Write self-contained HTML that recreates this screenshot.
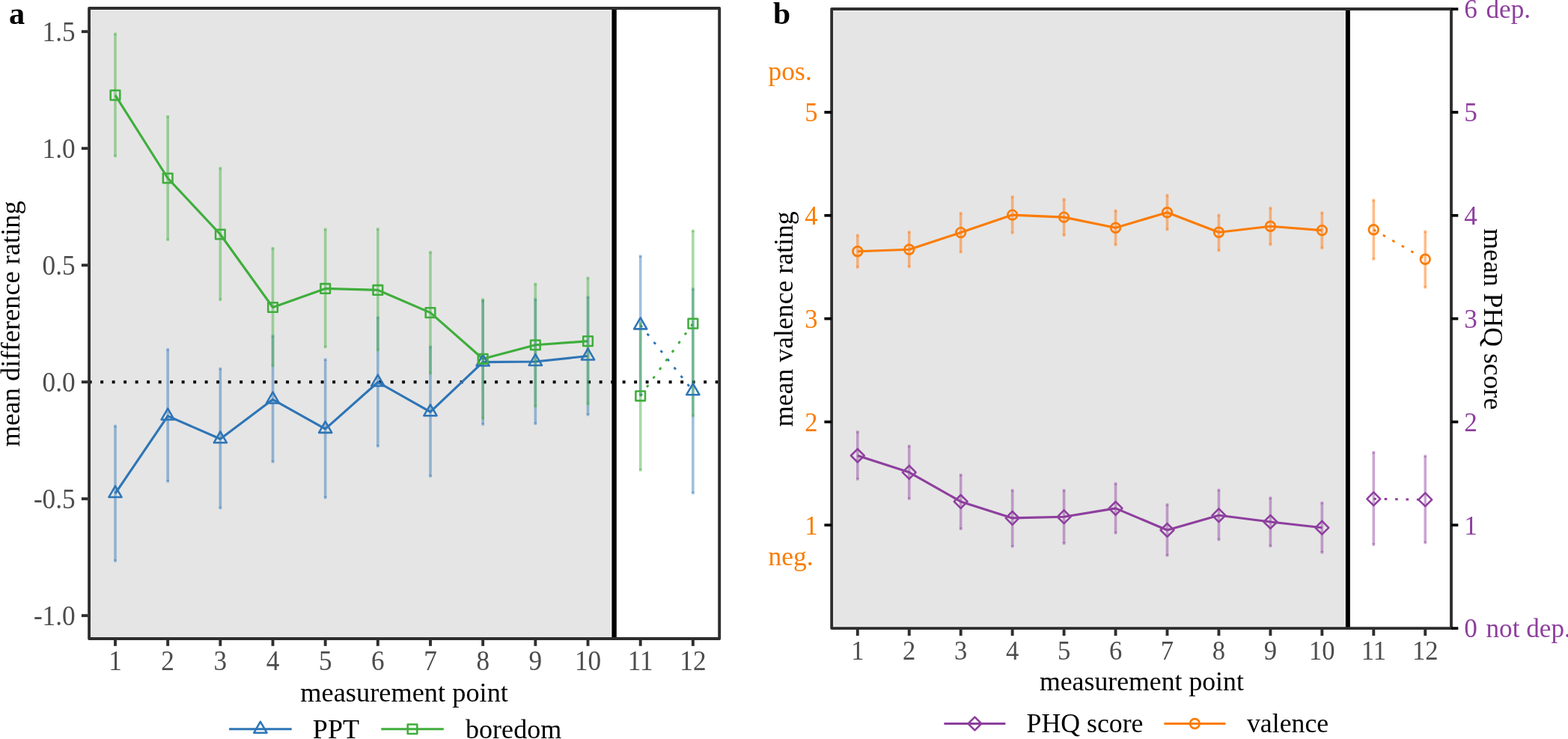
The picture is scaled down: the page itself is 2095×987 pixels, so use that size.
<!DOCTYPE html>
<html lang="en">
<head>
<meta charset="utf-8">
<title>Figure: mean difference rating and mean valence rating by measurement point</title>
<style>
html,body{margin:0;padding:0;background:#fff;}
body{width:2095px;height:987px;overflow:hidden;}
svg{display:block;}
text{font-family:"Liberation Serif", serif;}
</style>
</head>
<body>
<svg width="2095" height="987" viewBox="0 0 2095 987" font-family='"Liberation Serif", serif'>
<rect width="2095" height="987" fill="#fff"/>
<g id="panel-a">
<rect x="119.1" y="11" width="701.5" height="842" fill="#F3F3F3"/>
<rect x="122" y="14" width="693.8" height="836.4" fill="#E5E5E5"/>
<line x1="118.7" y1="510.2" x2="961.2" y2="510.2" stroke="#000" stroke-width="3.9" stroke-dasharray="3.9 11.6"/>
<line x1="820.6" y1="11" x2="820.6" y2="853" stroke="#000" stroke-width="6.4"/>
<polyline points="154,659.1 224.17,555.6 294.34,586.3 364.51,533.6 434.68,572.9 504.85,510.5 575.02,550.2 645.19,483.6 715.36,483 785.53,475.5" fill="none" stroke="#2E75B6" stroke-width="3.15" stroke-linejoin="round"/>
<line x1="855.7" y1="434.4" x2="925.87" y2="522.2" stroke="#2E75B6" stroke-width="2.9" stroke-dasharray="3.6 10.8"/>
<polyline points="154,127.1 224.17,238 294.34,313 364.51,410.5 434.68,385.4 504.85,387.4 575.02,417.6 645.19,479.2 715.36,460.7 785.53,455.6" fill="none" stroke="#3FAE3C" stroke-width="3.15" stroke-linejoin="round"/>
<line x1="855.7" y1="528.8" x2="925.87" y2="432.1" stroke="#3FAE3C" stroke-width="2.9" stroke-dasharray="3.6 10.8"/>
<rect x="152.2" y="567.4" width="3.6" height="183.4" fill="#2E75B6" fill-opacity="0.46"/>
<rect x="152.2" y="569.3" width="3.6" height="1.6" fill="#2E75B6" fill-opacity="0.46"/>
<rect x="152.2" y="747.3" width="3.6" height="1.6" fill="#2E75B6" fill-opacity="0.46"/>
<rect x="222.37" y="465.1" width="3.6" height="179.4" fill="#2E75B6" fill-opacity="0.46"/>
<rect x="222.37" y="467" width="3.6" height="1.6" fill="#2E75B6" fill-opacity="0.46"/>
<rect x="222.37" y="641" width="3.6" height="1.6" fill="#2E75B6" fill-opacity="0.46"/>
<rect x="292.54" y="490.8" width="3.6" height="189.4" fill="#2E75B6" fill-opacity="0.46"/>
<rect x="292.54" y="492.7" width="3.6" height="1.6" fill="#2E75B6" fill-opacity="0.46"/>
<rect x="292.54" y="676.7" width="3.6" height="1.6" fill="#2E75B6" fill-opacity="0.46"/>
<rect x="362.71" y="447.1" width="3.6" height="171.3" fill="#2E75B6" fill-opacity="0.46"/>
<rect x="362.71" y="449" width="3.6" height="1.6" fill="#2E75B6" fill-opacity="0.46"/>
<rect x="362.71" y="614.9" width="3.6" height="1.6" fill="#2E75B6" fill-opacity="0.46"/>
<rect x="432.88" y="478.5" width="3.6" height="187.7" fill="#2E75B6" fill-opacity="0.46"/>
<rect x="432.88" y="480.4" width="3.6" height="1.6" fill="#2E75B6" fill-opacity="0.46"/>
<rect x="432.88" y="662.7" width="3.6" height="1.6" fill="#2E75B6" fill-opacity="0.46"/>
<rect x="503.05" y="422.5" width="3.6" height="175" fill="#2E75B6" fill-opacity="0.46"/>
<rect x="503.05" y="424.4" width="3.6" height="1.6" fill="#2E75B6" fill-opacity="0.46"/>
<rect x="503.05" y="594" width="3.6" height="1.6" fill="#2E75B6" fill-opacity="0.46"/>
<rect x="573.22" y="461.6" width="3.6" height="176" fill="#2E75B6" fill-opacity="0.46"/>
<rect x="573.22" y="463.5" width="3.6" height="1.6" fill="#2E75B6" fill-opacity="0.46"/>
<rect x="573.22" y="634.1" width="3.6" height="1.6" fill="#2E75B6" fill-opacity="0.46"/>
<rect x="643.39" y="400" width="3.6" height="168.4" fill="#2E75B6" fill-opacity="0.46"/>
<rect x="643.39" y="401.9" width="3.6" height="1.6" fill="#2E75B6" fill-opacity="0.46"/>
<rect x="643.39" y="564.9" width="3.6" height="1.6" fill="#2E75B6" fill-opacity="0.46"/>
<rect x="713.56" y="398.3" width="3.6" height="169.1" fill="#2E75B6" fill-opacity="0.46"/>
<rect x="713.56" y="400.2" width="3.6" height="1.6" fill="#2E75B6" fill-opacity="0.46"/>
<rect x="713.56" y="563.9" width="3.6" height="1.6" fill="#2E75B6" fill-opacity="0.46"/>
<rect x="783.73" y="395.3" width="3.6" height="160.2" fill="#2E75B6" fill-opacity="0.46"/>
<rect x="783.73" y="397.2" width="3.6" height="1.6" fill="#2E75B6" fill-opacity="0.46"/>
<rect x="783.73" y="552" width="3.6" height="1.6" fill="#2E75B6" fill-opacity="0.46"/>
<rect x="853.9" y="340.5" width="3.6" height="189" fill="#2E75B6" fill-opacity="0.46"/>
<rect x="853.9" y="342.4" width="3.6" height="1.6" fill="#2E75B6" fill-opacity="0.46"/>
<rect x="853.9" y="526" width="3.6" height="1.6" fill="#2E75B6" fill-opacity="0.46"/>
<rect x="924.07" y="384.3" width="3.6" height="275.8" fill="#2E75B6" fill-opacity="0.46"/>
<rect x="924.07" y="386.2" width="3.6" height="1.6" fill="#2E75B6" fill-opacity="0.46"/>
<rect x="924.07" y="656.6" width="3.6" height="1.6" fill="#2E75B6" fill-opacity="0.46"/>
<rect x="152.2" y="43.6" width="3.6" height="166.5" fill="#3FAE3C" fill-opacity="0.46"/>
<rect x="152.2" y="45.5" width="3.6" height="1.6" fill="#3FAE3C" fill-opacity="0.46"/>
<rect x="152.2" y="206.6" width="3.6" height="1.6" fill="#3FAE3C" fill-opacity="0.46"/>
<rect x="222.37" y="154" width="3.6" height="167.9" fill="#3FAE3C" fill-opacity="0.46"/>
<rect x="222.37" y="155.9" width="3.6" height="1.6" fill="#3FAE3C" fill-opacity="0.46"/>
<rect x="222.37" y="318.4" width="3.6" height="1.6" fill="#3FAE3C" fill-opacity="0.46"/>
<rect x="292.54" y="222.9" width="3.6" height="179.2" fill="#3FAE3C" fill-opacity="0.46"/>
<rect x="292.54" y="224.8" width="3.6" height="1.6" fill="#3FAE3C" fill-opacity="0.46"/>
<rect x="292.54" y="398.6" width="3.6" height="1.6" fill="#3FAE3C" fill-opacity="0.46"/>
<rect x="362.71" y="329.9" width="3.6" height="160.3" fill="#3FAE3C" fill-opacity="0.46"/>
<rect x="362.71" y="331.8" width="3.6" height="1.6" fill="#3FAE3C" fill-opacity="0.46"/>
<rect x="362.71" y="486.7" width="3.6" height="1.6" fill="#3FAE3C" fill-opacity="0.46"/>
<rect x="432.88" y="304.6" width="3.6" height="160.5" fill="#3FAE3C" fill-opacity="0.46"/>
<rect x="432.88" y="306.5" width="3.6" height="1.6" fill="#3FAE3C" fill-opacity="0.46"/>
<rect x="432.88" y="461.6" width="3.6" height="1.6" fill="#3FAE3C" fill-opacity="0.46"/>
<rect x="503.05" y="304.2" width="3.6" height="164.9" fill="#3FAE3C" fill-opacity="0.46"/>
<rect x="503.05" y="306.1" width="3.6" height="1.6" fill="#3FAE3C" fill-opacity="0.46"/>
<rect x="503.05" y="465.6" width="3.6" height="1.6" fill="#3FAE3C" fill-opacity="0.46"/>
<rect x="573.22" y="335.1" width="3.6" height="165.1" fill="#3FAE3C" fill-opacity="0.46"/>
<rect x="573.22" y="337" width="3.6" height="1.6" fill="#3FAE3C" fill-opacity="0.46"/>
<rect x="573.22" y="496.7" width="3.6" height="1.6" fill="#3FAE3C" fill-opacity="0.46"/>
<rect x="643.39" y="398.3" width="3.6" height="162" fill="#3FAE3C" fill-opacity="0.46"/>
<rect x="643.39" y="400.2" width="3.6" height="1.6" fill="#3FAE3C" fill-opacity="0.46"/>
<rect x="643.39" y="556.8" width="3.6" height="1.6" fill="#3FAE3C" fill-opacity="0.46"/>
<rect x="713.56" y="377.6" width="3.6" height="166.7" fill="#3FAE3C" fill-opacity="0.46"/>
<rect x="713.56" y="379.5" width="3.6" height="1.6" fill="#3FAE3C" fill-opacity="0.46"/>
<rect x="713.56" y="540.8" width="3.6" height="1.6" fill="#3FAE3C" fill-opacity="0.46"/>
<rect x="783.73" y="369.6" width="3.6" height="171.4" fill="#3FAE3C" fill-opacity="0.46"/>
<rect x="783.73" y="371.5" width="3.6" height="1.6" fill="#3FAE3C" fill-opacity="0.46"/>
<rect x="783.73" y="537.5" width="3.6" height="1.6" fill="#3FAE3C" fill-opacity="0.46"/>
<rect x="853.9" y="429.6" width="3.6" height="199.9" fill="#3FAE3C" fill-opacity="0.46"/>
<rect x="853.9" y="431.5" width="3.6" height="1.6" fill="#3FAE3C" fill-opacity="0.46"/>
<rect x="853.9" y="626" width="3.6" height="1.6" fill="#3FAE3C" fill-opacity="0.46"/>
<rect x="924.07" y="306.6" width="3.6" height="250.6" fill="#3FAE3C" fill-opacity="0.46"/>
<rect x="924.07" y="308.5" width="3.6" height="1.6" fill="#3FAE3C" fill-opacity="0.46"/>
<rect x="924.07" y="553.7" width="3.6" height="1.6" fill="#3FAE3C" fill-opacity="0.46"/>
<path d="M154 649.17L162.6 664.07L145.4 664.07Z" fill="none" stroke="#2E75B6" stroke-width="2.55" stroke-linejoin="round"/>
<path d="M224.17 545.67L232.77 560.57L215.57 560.57Z" fill="none" stroke="#2E75B6" stroke-width="2.55" stroke-linejoin="round"/>
<path d="M294.34 576.37L302.94 591.27L285.74 591.27Z" fill="none" stroke="#2E75B6" stroke-width="2.55" stroke-linejoin="round"/>
<path d="M364.51 523.67L373.11 538.57L355.91 538.57Z" fill="none" stroke="#2E75B6" stroke-width="2.55" stroke-linejoin="round"/>
<path d="M434.68 562.97L443.28 577.87L426.08 577.87Z" fill="none" stroke="#2E75B6" stroke-width="2.55" stroke-linejoin="round"/>
<path d="M504.85 500.57L513.45 515.47L496.25 515.47Z" fill="none" stroke="#2E75B6" stroke-width="2.55" stroke-linejoin="round"/>
<path d="M575.02 540.27L583.62 555.17L566.42 555.17Z" fill="none" stroke="#2E75B6" stroke-width="2.55" stroke-linejoin="round"/>
<path d="M645.19 473.67L653.79 488.57L636.59 488.57Z" fill="none" stroke="#2E75B6" stroke-width="2.55" stroke-linejoin="round"/>
<path d="M715.36 473.07L723.96 487.97L706.76 487.97Z" fill="none" stroke="#2E75B6" stroke-width="2.55" stroke-linejoin="round"/>
<path d="M785.53 465.57L794.13 480.47L776.93 480.47Z" fill="none" stroke="#2E75B6" stroke-width="2.55" stroke-linejoin="round"/>
<path d="M855.7 424.47L864.3 439.37L847.1 439.37Z" fill="none" stroke="#2E75B6" stroke-width="2.55" stroke-linejoin="round"/>
<path d="M925.87 512.27L934.47 527.17L917.27 527.17Z" fill="none" stroke="#2E75B6" stroke-width="2.55" stroke-linejoin="round"/>
<rect x="147.7" y="120.8" width="12.6" height="12.6" fill="none" stroke="#3FAE3C" stroke-width="2.55" stroke-linejoin="round"/>
<rect x="217.87" y="231.7" width="12.6" height="12.6" fill="none" stroke="#3FAE3C" stroke-width="2.55" stroke-linejoin="round"/>
<rect x="288.04" y="306.7" width="12.6" height="12.6" fill="none" stroke="#3FAE3C" stroke-width="2.55" stroke-linejoin="round"/>
<rect x="358.21" y="404.2" width="12.6" height="12.6" fill="none" stroke="#3FAE3C" stroke-width="2.55" stroke-linejoin="round"/>
<rect x="428.38" y="379.1" width="12.6" height="12.6" fill="none" stroke="#3FAE3C" stroke-width="2.55" stroke-linejoin="round"/>
<rect x="498.55" y="381.1" width="12.6" height="12.6" fill="none" stroke="#3FAE3C" stroke-width="2.55" stroke-linejoin="round"/>
<rect x="568.72" y="411.3" width="12.6" height="12.6" fill="none" stroke="#3FAE3C" stroke-width="2.55" stroke-linejoin="round"/>
<rect x="638.89" y="472.9" width="12.6" height="12.6" fill="none" stroke="#3FAE3C" stroke-width="2.55" stroke-linejoin="round"/>
<rect x="709.06" y="454.4" width="12.6" height="12.6" fill="none" stroke="#3FAE3C" stroke-width="2.55" stroke-linejoin="round"/>
<rect x="779.23" y="449.3" width="12.6" height="12.6" fill="none" stroke="#3FAE3C" stroke-width="2.55" stroke-linejoin="round"/>
<rect x="849.4" y="522.5" width="12.6" height="12.6" fill="none" stroke="#3FAE3C" stroke-width="2.55" stroke-linejoin="round"/>
<rect x="919.57" y="425.8" width="12.6" height="12.6" fill="none" stroke="#3FAE3C" stroke-width="2.55" stroke-linejoin="round"/>
<rect x="119.1" y="11" width="842.1" height="842" fill="none" stroke="#2E2E2E" stroke-width="3.9" stroke-linejoin="round"/>
<line x1="108.9" y1="42.2" x2="117.35" y2="42.2" stroke="#2E2E2E" stroke-width="3.9"/>
<text transform="translate(100.6 54.6) scale(0.96 1.02)" fill="#4D4D4D" font-size="36.67" text-anchor="end">1.5</text>
<line x1="108.9" y1="198.2" x2="117.35" y2="198.2" stroke="#2E2E2E" stroke-width="3.9"/>
<text transform="translate(100.6 210.6) scale(0.96 1.02)" fill="#4D4D4D" font-size="36.67" text-anchor="end">1.0</text>
<line x1="108.9" y1="354.2" x2="117.35" y2="354.2" stroke="#2E2E2E" stroke-width="3.9"/>
<text transform="translate(100.6 366.6) scale(0.96 1.02)" fill="#4D4D4D" font-size="36.67" text-anchor="end">0.5</text>
<line x1="108.9" y1="510.2" x2="117.35" y2="510.2" stroke="#2E2E2E" stroke-width="3.9"/>
<text transform="translate(100.6 522.6) scale(0.96 1.02)" fill="#4D4D4D" font-size="36.67" text-anchor="end">0.0</text>
<line x1="108.9" y1="666.2" x2="117.35" y2="666.2" stroke="#2E2E2E" stroke-width="3.9"/>
<text transform="translate(100.6 678.6) scale(0.96 1.02)" fill="#4D4D4D" font-size="36.67" text-anchor="end">-0.5</text>
<line x1="108.9" y1="822.2" x2="117.35" y2="822.2" stroke="#2E2E2E" stroke-width="3.9"/>
<text transform="translate(100.6 834.6) scale(0.96 1.02)" fill="#4D4D4D" font-size="36.67" text-anchor="end">-1.0</text>
<line x1="154" y1="854.75" x2="154" y2="862.8" stroke="#2E2E2E" stroke-width="3.9"/>
<text transform="translate(154 895.3) scale(0.96 1.02)" fill="#4D4D4D" font-size="36.67" text-anchor="middle">1</text>
<line x1="224.17" y1="854.75" x2="224.17" y2="862.8" stroke="#2E2E2E" stroke-width="3.9"/>
<text transform="translate(224.17 895.3) scale(0.96 1.02)" fill="#4D4D4D" font-size="36.67" text-anchor="middle">2</text>
<line x1="294.34" y1="854.75" x2="294.34" y2="862.8" stroke="#2E2E2E" stroke-width="3.9"/>
<text transform="translate(294.34 895.3) scale(0.96 1.02)" fill="#4D4D4D" font-size="36.67" text-anchor="middle">3</text>
<line x1="364.51" y1="854.75" x2="364.51" y2="862.8" stroke="#2E2E2E" stroke-width="3.9"/>
<text transform="translate(364.51 895.3) scale(0.96 1.02)" fill="#4D4D4D" font-size="36.67" text-anchor="middle">4</text>
<line x1="434.68" y1="854.75" x2="434.68" y2="862.8" stroke="#2E2E2E" stroke-width="3.9"/>
<text transform="translate(434.68 895.3) scale(0.96 1.02)" fill="#4D4D4D" font-size="36.67" text-anchor="middle">5</text>
<line x1="504.85" y1="854.75" x2="504.85" y2="862.8" stroke="#2E2E2E" stroke-width="3.9"/>
<text transform="translate(504.85 895.3) scale(0.96 1.02)" fill="#4D4D4D" font-size="36.67" text-anchor="middle">6</text>
<line x1="575.02" y1="854.75" x2="575.02" y2="862.8" stroke="#2E2E2E" stroke-width="3.9"/>
<text transform="translate(575.02 895.3) scale(0.96 1.02)" fill="#4D4D4D" font-size="36.67" text-anchor="middle">7</text>
<line x1="645.19" y1="854.75" x2="645.19" y2="862.8" stroke="#2E2E2E" stroke-width="3.9"/>
<text transform="translate(645.19 895.3) scale(0.96 1.02)" fill="#4D4D4D" font-size="36.67" text-anchor="middle">8</text>
<line x1="715.36" y1="854.75" x2="715.36" y2="862.8" stroke="#2E2E2E" stroke-width="3.9"/>
<text transform="translate(715.36 895.3) scale(0.96 1.02)" fill="#4D4D4D" font-size="36.67" text-anchor="middle">9</text>
<line x1="785.53" y1="854.75" x2="785.53" y2="862.8" stroke="#2E2E2E" stroke-width="3.9"/>
<text transform="translate(785.53 895.3) scale(0.96 1.02)" fill="#4D4D4D" font-size="36.67" text-anchor="middle">10</text>
<line x1="855.7" y1="854.75" x2="855.7" y2="862.8" stroke="#2E2E2E" stroke-width="3.9"/>
<text transform="translate(855.7 895.3) scale(0.96 1.02)" fill="#4D4D4D" font-size="36.67" text-anchor="middle">11</text>
<line x1="925.87" y1="854.75" x2="925.87" y2="862.8" stroke="#2E2E2E" stroke-width="3.9"/>
<text transform="translate(925.87 895.3) scale(0.96 1.02)" fill="#4D4D4D" font-size="36.67" text-anchor="middle">12</text>
<text transform="translate(540.1 936.8) scale(0.992 1)" fill="#000" font-size="36.67" text-anchor="middle">measurement point</text>
<text transform="translate(26.1 432.6) rotate(-90) scale(0.992 1)" fill="#000" font-size="36.67" text-anchor="middle">mean difference rating</text>
<text transform="translate(12 31.9)" fill="#000" font-size="42.4" font-weight="bold">a</text>
<line x1="306.1" y1="973.75" x2="389.7" y2="973.75" stroke="#2E75B6" stroke-width="3.15"/>
<path d="M347.9 963.82L356.5 978.72L339.3 978.72Z" fill="none" stroke="#2E75B6" stroke-width="2.55" stroke-linejoin="round"/>
<text transform="translate(417.8 985.6) scale(0.985 1)" fill="#000" font-size="36.67">PPT</text>
<line x1="509.3" y1="973.75" x2="592.8" y2="973.75" stroke="#3FAE3C" stroke-width="3.15"/>
<rect x="544.75" y="967.45" width="12.6" height="12.6" fill="none" stroke="#3FAE3C" stroke-width="2.55" stroke-linejoin="round"/>
<text transform="translate(622 985.6) scale(0.985 1)" fill="#000" font-size="36.67">boredom</text>
</g>
<g id="panel-b">
<rect x="1111.2" y="12" width="689.65" height="827.05" fill="#F3F3F3"/>
<rect x="1114.6" y="15.2" width="681.6" height="821" fill="#E5E5E5"/>
<line x1="1800.85" y1="12" x2="1800.85" y2="839.05" stroke="#000" stroke-width="6"/>
<polyline points="1145.8,608.5 1214.75,630.8 1283.7,669.9 1352.65,691.9 1421.6,690.3 1490.55,678.9 1559.5,708 1628.45,688.3 1697.4,697 1766.35,704.8" fill="none" stroke="#8E3F9E" stroke-width="3.15" stroke-linejoin="round"/>
<line x1="1835.3" y1="666.3" x2="1904.25" y2="667.3" stroke="#8E3F9E" stroke-width="2.9" stroke-dasharray="3.6 10.8"/>
<polyline points="1145.8,335.7 1214.75,333.3 1283.7,310.6 1352.65,287.1 1421.6,290.1 1490.55,304.2 1559.5,283.7 1628.45,310.2 1697.4,302.2 1766.35,307.6" fill="none" stroke="#FA7C03" stroke-width="3.15" stroke-linejoin="round"/>
<line x1="1835.3" y1="306.8" x2="1904.25" y2="346.3" stroke="#FA7C03" stroke-width="2.9" stroke-dasharray="3.6 10.8"/>
<rect x="1144" y="575" width="3.6" height="66.6" fill="#8E3F9E" fill-opacity="0.46"/>
<rect x="1144" y="576.9" width="3.6" height="1.6" fill="#8E3F9E" fill-opacity="0.46"/>
<rect x="1144" y="638.1" width="3.6" height="1.6" fill="#8E3F9E" fill-opacity="0.46"/>
<rect x="1212.95" y="594.1" width="3.6" height="73.6" fill="#8E3F9E" fill-opacity="0.46"/>
<rect x="1212.95" y="596" width="3.6" height="1.6" fill="#8E3F9E" fill-opacity="0.46"/>
<rect x="1212.95" y="664.2" width="3.6" height="1.6" fill="#8E3F9E" fill-opacity="0.46"/>
<rect x="1281.9" y="632.6" width="3.6" height="75.4" fill="#8E3F9E" fill-opacity="0.46"/>
<rect x="1281.9" y="634.5" width="3.6" height="1.6" fill="#8E3F9E" fill-opacity="0.46"/>
<rect x="1281.9" y="704.5" width="3.6" height="1.6" fill="#8E3F9E" fill-opacity="0.46"/>
<rect x="1350.85" y="653.2" width="3.6" height="78.3" fill="#8E3F9E" fill-opacity="0.46"/>
<rect x="1350.85" y="655.1" width="3.6" height="1.6" fill="#8E3F9E" fill-opacity="0.46"/>
<rect x="1350.85" y="728" width="3.6" height="1.6" fill="#8E3F9E" fill-opacity="0.46"/>
<rect x="1419.8" y="653.2" width="3.6" height="74.2" fill="#8E3F9E" fill-opacity="0.46"/>
<rect x="1419.8" y="655.1" width="3.6" height="1.6" fill="#8E3F9E" fill-opacity="0.46"/>
<rect x="1419.8" y="723.9" width="3.6" height="1.6" fill="#8E3F9E" fill-opacity="0.46"/>
<rect x="1488.75" y="644.2" width="3.6" height="69.2" fill="#8E3F9E" fill-opacity="0.46"/>
<rect x="1488.75" y="646.1" width="3.6" height="1.6" fill="#8E3F9E" fill-opacity="0.46"/>
<rect x="1488.75" y="709.9" width="3.6" height="1.6" fill="#8E3F9E" fill-opacity="0.46"/>
<rect x="1557.7" y="672.3" width="3.6" height="71.2" fill="#8E3F9E" fill-opacity="0.46"/>
<rect x="1557.7" y="674.2" width="3.6" height="1.6" fill="#8E3F9E" fill-opacity="0.46"/>
<rect x="1557.7" y="740" width="3.6" height="1.6" fill="#8E3F9E" fill-opacity="0.46"/>
<rect x="1626.65" y="652.8" width="3.6" height="69.6" fill="#8E3F9E" fill-opacity="0.46"/>
<rect x="1626.65" y="654.7" width="3.6" height="1.6" fill="#8E3F9E" fill-opacity="0.46"/>
<rect x="1626.65" y="718.9" width="3.6" height="1.6" fill="#8E3F9E" fill-opacity="0.46"/>
<rect x="1695.6" y="663.3" width="3.6" height="67.7" fill="#8E3F9E" fill-opacity="0.46"/>
<rect x="1695.6" y="665.2" width="3.6" height="1.6" fill="#8E3F9E" fill-opacity="0.46"/>
<rect x="1695.6" y="727.5" width="3.6" height="1.6" fill="#8E3F9E" fill-opacity="0.46"/>
<rect x="1764.55" y="669.9" width="3.6" height="69.6" fill="#8E3F9E" fill-opacity="0.46"/>
<rect x="1764.55" y="671.8" width="3.6" height="1.6" fill="#8E3F9E" fill-opacity="0.46"/>
<rect x="1764.55" y="736" width="3.6" height="1.6" fill="#8E3F9E" fill-opacity="0.46"/>
<rect x="1833.5" y="602.5" width="3.6" height="126.5" fill="#8E3F9E" fill-opacity="0.46"/>
<rect x="1833.5" y="604.4" width="3.6" height="1.6" fill="#8E3F9E" fill-opacity="0.46"/>
<rect x="1833.5" y="725.5" width="3.6" height="1.6" fill="#8E3F9E" fill-opacity="0.46"/>
<rect x="1902.45" y="607.5" width="3.6" height="118.9" fill="#8E3F9E" fill-opacity="0.46"/>
<rect x="1902.45" y="609.4" width="3.6" height="1.6" fill="#8E3F9E" fill-opacity="0.46"/>
<rect x="1902.45" y="722.9" width="3.6" height="1.6" fill="#8E3F9E" fill-opacity="0.46"/>
<rect x="1144" y="312.6" width="3.6" height="46.1" fill="#FF7914" fill-opacity="0.5"/>
<rect x="1144" y="314.5" width="3.6" height="1.6" fill="#FF7914" fill-opacity="0.5"/>
<rect x="1144" y="355.2" width="3.6" height="1.6" fill="#FF7914" fill-opacity="0.5"/>
<rect x="1212.95" y="308.2" width="3.6" height="49.7" fill="#FF7914" fill-opacity="0.5"/>
<rect x="1212.95" y="310.1" width="3.6" height="1.6" fill="#FF7914" fill-opacity="0.5"/>
<rect x="1212.95" y="354.4" width="3.6" height="1.6" fill="#FF7914" fill-opacity="0.5"/>
<rect x="1281.9" y="283.1" width="3.6" height="55.2" fill="#FF7914" fill-opacity="0.5"/>
<rect x="1281.9" y="285" width="3.6" height="1.6" fill="#FF7914" fill-opacity="0.5"/>
<rect x="1281.9" y="334.8" width="3.6" height="1.6" fill="#FF7914" fill-opacity="0.5"/>
<rect x="1350.85" y="261.1" width="3.6" height="51.5" fill="#FF7914" fill-opacity="0.5"/>
<rect x="1350.85" y="263" width="3.6" height="1.6" fill="#FF7914" fill-opacity="0.5"/>
<rect x="1350.85" y="309.1" width="3.6" height="1.6" fill="#FF7914" fill-opacity="0.5"/>
<rect x="1419.8" y="264.5" width="3.6" height="51.3" fill="#FF7914" fill-opacity="0.5"/>
<rect x="1419.8" y="266.4" width="3.6" height="1.6" fill="#FF7914" fill-opacity="0.5"/>
<rect x="1419.8" y="312.3" width="3.6" height="1.6" fill="#FF7914" fill-opacity="0.5"/>
<rect x="1488.75" y="279.7" width="3.6" height="48.9" fill="#FF7914" fill-opacity="0.5"/>
<rect x="1488.75" y="281.6" width="3.6" height="1.6" fill="#FF7914" fill-opacity="0.5"/>
<rect x="1488.75" y="325.1" width="3.6" height="1.6" fill="#FF7914" fill-opacity="0.5"/>
<rect x="1557.7" y="259.1" width="3.6" height="49.1" fill="#FF7914" fill-opacity="0.5"/>
<rect x="1557.7" y="261" width="3.6" height="1.6" fill="#FF7914" fill-opacity="0.5"/>
<rect x="1557.7" y="304.7" width="3.6" height="1.6" fill="#FF7914" fill-opacity="0.5"/>
<rect x="1626.65" y="285.7" width="3.6" height="50.6" fill="#FF7914" fill-opacity="0.5"/>
<rect x="1626.65" y="287.6" width="3.6" height="1.6" fill="#FF7914" fill-opacity="0.5"/>
<rect x="1626.65" y="332.8" width="3.6" height="1.6" fill="#FF7914" fill-opacity="0.5"/>
<rect x="1695.6" y="276.1" width="3.6" height="52.1" fill="#FF7914" fill-opacity="0.5"/>
<rect x="1695.6" y="278" width="3.6" height="1.6" fill="#FF7914" fill-opacity="0.5"/>
<rect x="1695.6" y="324.7" width="3.6" height="1.6" fill="#FF7914" fill-opacity="0.5"/>
<rect x="1764.55" y="282.5" width="3.6" height="50.4" fill="#FF7914" fill-opacity="0.5"/>
<rect x="1764.55" y="284.4" width="3.6" height="1.6" fill="#FF7914" fill-opacity="0.5"/>
<rect x="1764.55" y="329.4" width="3.6" height="1.6" fill="#FF7914" fill-opacity="0.5"/>
<rect x="1833.5" y="265.7" width="3.6" height="82" fill="#FF7914" fill-opacity="0.5"/>
<rect x="1833.5" y="267.6" width="3.6" height="1.6" fill="#FF7914" fill-opacity="0.5"/>
<rect x="1833.5" y="344.2" width="3.6" height="1.6" fill="#FF7914" fill-opacity="0.5"/>
<rect x="1902.45" y="307.6" width="3.6" height="77.8" fill="#FF7914" fill-opacity="0.5"/>
<rect x="1902.45" y="309.5" width="3.6" height="1.6" fill="#FF7914" fill-opacity="0.5"/>
<rect x="1902.45" y="381.9" width="3.6" height="1.6" fill="#FF7914" fill-opacity="0.5"/>
<path d="M1145.8 599.6L1154.7 608.5L1145.8 617.4L1136.9 608.5Z" fill="none" stroke="#8E3F9E" stroke-width="2.55" stroke-linejoin="round"/>
<path d="M1214.75 621.9L1223.65 630.8L1214.75 639.7L1205.85 630.8Z" fill="none" stroke="#8E3F9E" stroke-width="2.55" stroke-linejoin="round"/>
<path d="M1283.7 661L1292.6 669.9L1283.7 678.8L1274.8 669.9Z" fill="none" stroke="#8E3F9E" stroke-width="2.55" stroke-linejoin="round"/>
<path d="M1352.65 683L1361.55 691.9L1352.65 700.8L1343.75 691.9Z" fill="none" stroke="#8E3F9E" stroke-width="2.55" stroke-linejoin="round"/>
<path d="M1421.6 681.4L1430.5 690.3L1421.6 699.2L1412.7 690.3Z" fill="none" stroke="#8E3F9E" stroke-width="2.55" stroke-linejoin="round"/>
<path d="M1490.55 670L1499.45 678.9L1490.55 687.8L1481.65 678.9Z" fill="none" stroke="#8E3F9E" stroke-width="2.55" stroke-linejoin="round"/>
<path d="M1559.5 699.1L1568.4 708L1559.5 716.9L1550.6 708Z" fill="none" stroke="#8E3F9E" stroke-width="2.55" stroke-linejoin="round"/>
<path d="M1628.45 679.4L1637.35 688.3L1628.45 697.2L1619.55 688.3Z" fill="none" stroke="#8E3F9E" stroke-width="2.55" stroke-linejoin="round"/>
<path d="M1697.4 688.1L1706.3 697L1697.4 705.9L1688.5 697Z" fill="none" stroke="#8E3F9E" stroke-width="2.55" stroke-linejoin="round"/>
<path d="M1766.35 695.9L1775.25 704.8L1766.35 713.7L1757.45 704.8Z" fill="none" stroke="#8E3F9E" stroke-width="2.55" stroke-linejoin="round"/>
<path d="M1835.3 657.4L1844.2 666.3L1835.3 675.2L1826.4 666.3Z" fill="none" stroke="#8E3F9E" stroke-width="2.55" stroke-linejoin="round"/>
<path d="M1904.25 658.4L1913.15 667.3L1904.25 676.2L1895.35 667.3Z" fill="none" stroke="#8E3F9E" stroke-width="2.55" stroke-linejoin="round"/>
<circle cx="1145.8" cy="335.7" r="6.35" fill="none" stroke="#FA7C03" stroke-width="2.7"/>
<circle cx="1214.75" cy="333.3" r="6.35" fill="none" stroke="#FA7C03" stroke-width="2.7"/>
<circle cx="1283.7" cy="310.6" r="6.35" fill="none" stroke="#FA7C03" stroke-width="2.7"/>
<circle cx="1352.65" cy="287.1" r="6.35" fill="none" stroke="#FA7C03" stroke-width="2.7"/>
<circle cx="1421.6" cy="290.1" r="6.35" fill="none" stroke="#FA7C03" stroke-width="2.7"/>
<circle cx="1490.55" cy="304.2" r="6.35" fill="none" stroke="#FA7C03" stroke-width="2.7"/>
<circle cx="1559.5" cy="283.7" r="6.35" fill="none" stroke="#FA7C03" stroke-width="2.7"/>
<circle cx="1628.45" cy="310.2" r="6.35" fill="none" stroke="#FA7C03" stroke-width="2.7"/>
<circle cx="1697.4" cy="302.2" r="6.35" fill="none" stroke="#FA7C03" stroke-width="2.7"/>
<circle cx="1766.35" cy="307.6" r="6.35" fill="none" stroke="#FA7C03" stroke-width="2.7"/>
<circle cx="1835.3" cy="306.8" r="6.35" fill="none" stroke="#FA7C03" stroke-width="2.7"/>
<circle cx="1904.25" cy="346.3" r="6.35" fill="none" stroke="#FA7C03" stroke-width="2.7"/>
<rect x="1111.2" y="12" width="827.8" height="827.05" fill="none" stroke="#2E2E2E" stroke-width="3.85" stroke-linejoin="round"/>
<line x1="1101.4" y1="701.31" x2="1111.2" y2="701.31" stroke="#000" stroke-width="3.7"/>
<text transform="translate(1092.6 713.51) scale(0.96 1.02)" fill="#FA7C03" font-size="36.03" text-anchor="end">1</text>
<line x1="1101.4" y1="563.47" x2="1111.2" y2="563.47" stroke="#000" stroke-width="3.7"/>
<text transform="translate(1092.6 575.67) scale(0.96 1.02)" fill="#FA7C03" font-size="36.03" text-anchor="end">2</text>
<line x1="1101.4" y1="425.62" x2="1111.2" y2="425.62" stroke="#000" stroke-width="3.7"/>
<text transform="translate(1092.6 437.82) scale(0.96 1.02)" fill="#FA7C03" font-size="36.03" text-anchor="end">3</text>
<line x1="1101.4" y1="287.78" x2="1111.2" y2="287.78" stroke="#000" stroke-width="3.7"/>
<text transform="translate(1092.6 299.98) scale(0.96 1.02)" fill="#FA7C03" font-size="36.03" text-anchor="end">4</text>
<line x1="1101.4" y1="149.94" x2="1111.2" y2="149.94" stroke="#000" stroke-width="3.7"/>
<text transform="translate(1092.6 162.14) scale(0.96 1.02)" fill="#FA7C03" font-size="36.03" text-anchor="end">5</text>
<text transform="translate(1026.6 106.8) scale(0.985 1)" fill="#FA7C03" font-size="36.03">pos.</text>
<text transform="translate(1026.4 754.7) scale(0.985 1)" fill="#FA7C03" font-size="36.03">neg.</text>
<line x1="1939" y1="839.15" x2="1948.3" y2="839.15" stroke="#000" stroke-width="3.7"/>
<text transform="translate(1956.2 851.35) scale(0.978 1.01)" fill="#8E3F9E" font-size="36.03">0 <tspan dx="2.9">not dep.</tspan></text>
<line x1="1939" y1="701.31" x2="1948.3" y2="701.31" stroke="#000" stroke-width="3.7"/>
<text transform="translate(1956.2 713.51) scale(0.978 1.01)" fill="#8E3F9E" font-size="36.03">1</text>
<line x1="1939" y1="563.47" x2="1948.3" y2="563.47" stroke="#000" stroke-width="3.7"/>
<text transform="translate(1956.2 575.67) scale(0.978 1.01)" fill="#8E3F9E" font-size="36.03">2</text>
<line x1="1939" y1="425.62" x2="1948.3" y2="425.62" stroke="#000" stroke-width="3.7"/>
<text transform="translate(1956.2 437.82) scale(0.978 1.01)" fill="#8E3F9E" font-size="36.03">3</text>
<line x1="1939" y1="287.78" x2="1948.3" y2="287.78" stroke="#000" stroke-width="3.7"/>
<text transform="translate(1956.2 299.98) scale(0.978 1.01)" fill="#8E3F9E" font-size="36.03">4</text>
<line x1="1939" y1="149.94" x2="1948.3" y2="149.94" stroke="#000" stroke-width="3.7"/>
<text transform="translate(1956.2 162.14) scale(0.978 1.01)" fill="#8E3F9E" font-size="36.03">5</text>
<line x1="1939" y1="12.1" x2="1948.3" y2="12.1" stroke="#000" stroke-width="3.7"/>
<text transform="translate(1956.2 24.3) scale(0.978 1.01)" fill="#8E3F9E" font-size="36.03">6 <tspan dx="2.9">dep.</tspan></text>
<line x1="1145.8" y1="840.8" x2="1145.8" y2="849.1" stroke="#2E2E2E" stroke-width="3.9"/>
<text transform="translate(1145.8 881.1) scale(0.96 1.02)" fill="#4D4D4D" font-size="36.03" text-anchor="middle">1</text>
<line x1="1214.75" y1="840.8" x2="1214.75" y2="849.1" stroke="#2E2E2E" stroke-width="3.9"/>
<text transform="translate(1214.75 881.1) scale(0.96 1.02)" fill="#4D4D4D" font-size="36.03" text-anchor="middle">2</text>
<line x1="1283.7" y1="840.8" x2="1283.7" y2="849.1" stroke="#2E2E2E" stroke-width="3.9"/>
<text transform="translate(1283.7 881.1) scale(0.96 1.02)" fill="#4D4D4D" font-size="36.03" text-anchor="middle">3</text>
<line x1="1352.65" y1="840.8" x2="1352.65" y2="849.1" stroke="#2E2E2E" stroke-width="3.9"/>
<text transform="translate(1352.65 881.1) scale(0.96 1.02)" fill="#4D4D4D" font-size="36.03" text-anchor="middle">4</text>
<line x1="1421.6" y1="840.8" x2="1421.6" y2="849.1" stroke="#2E2E2E" stroke-width="3.9"/>
<text transform="translate(1421.6 881.1) scale(0.96 1.02)" fill="#4D4D4D" font-size="36.03" text-anchor="middle">5</text>
<line x1="1490.55" y1="840.8" x2="1490.55" y2="849.1" stroke="#2E2E2E" stroke-width="3.9"/>
<text transform="translate(1490.55 881.1) scale(0.96 1.02)" fill="#4D4D4D" font-size="36.03" text-anchor="middle">6</text>
<line x1="1559.5" y1="840.8" x2="1559.5" y2="849.1" stroke="#2E2E2E" stroke-width="3.9"/>
<text transform="translate(1559.5 881.1) scale(0.96 1.02)" fill="#4D4D4D" font-size="36.03" text-anchor="middle">7</text>
<line x1="1628.45" y1="840.8" x2="1628.45" y2="849.1" stroke="#2E2E2E" stroke-width="3.9"/>
<text transform="translate(1628.45 881.1) scale(0.96 1.02)" fill="#4D4D4D" font-size="36.03" text-anchor="middle">8</text>
<line x1="1697.4" y1="840.8" x2="1697.4" y2="849.1" stroke="#2E2E2E" stroke-width="3.9"/>
<text transform="translate(1697.4 881.1) scale(0.96 1.02)" fill="#4D4D4D" font-size="36.03" text-anchor="middle">9</text>
<line x1="1766.35" y1="840.8" x2="1766.35" y2="849.1" stroke="#2E2E2E" stroke-width="3.9"/>
<text transform="translate(1766.35 881.1) scale(0.96 1.02)" fill="#4D4D4D" font-size="36.03" text-anchor="middle">10</text>
<line x1="1835.3" y1="840.8" x2="1835.3" y2="849.1" stroke="#2E2E2E" stroke-width="3.9"/>
<text transform="translate(1835.3 881.1) scale(0.96 1.02)" fill="#4D4D4D" font-size="36.03" text-anchor="middle">11</text>
<line x1="1904.25" y1="840.8" x2="1904.25" y2="849.1" stroke="#2E2E2E" stroke-width="3.9"/>
<text transform="translate(1904.25 881.1) scale(0.96 1.02)" fill="#4D4D4D" font-size="36.03" text-anchor="middle">12</text>
<text transform="translate(1525.4 922) scale(0.992 1)" fill="#000" font-size="36.03" text-anchor="middle">measurement point</text>
<text transform="translate(1058.7 426.2) rotate(-90) scale(0.992 1)" fill="#000" font-size="36.03" text-anchor="middle">mean valence rating</text>
<text transform="translate(1983.3 426.3) rotate(90) scale(0.992 1)" fill="#000" font-size="36.03" text-anchor="middle">mean PHQ score</text>
<text transform="translate(1033 32)" fill="#000" font-size="41.7" font-weight="bold">b</text>
<line x1="1261.4" y1="966.5" x2="1343.4" y2="966.5" stroke="#8E3F9E" stroke-width="3.15"/>
<path d="M1302.4 957.6L1311.3 966.5L1302.4 975.4L1293.5 966.5Z" fill="none" stroke="#8E3F9E" stroke-width="2.55" stroke-linejoin="round"/>
<text transform="translate(1371.6 978.4) scale(0.992 1)" fill="#000" font-size="36.03">PHQ score</text>
<line x1="1555.4" y1="966.5" x2="1637.5" y2="966.5" stroke="#FA7C03" stroke-width="3.15"/>
<circle cx="1596.4" cy="966.5" r="6.35" fill="none" stroke="#FA7C03" stroke-width="2.7"/>
<text transform="translate(1666 978.4) scale(0.992 1)" fill="#000" font-size="36.03">valence</text>
</g>
</svg>
</body>
</html>
